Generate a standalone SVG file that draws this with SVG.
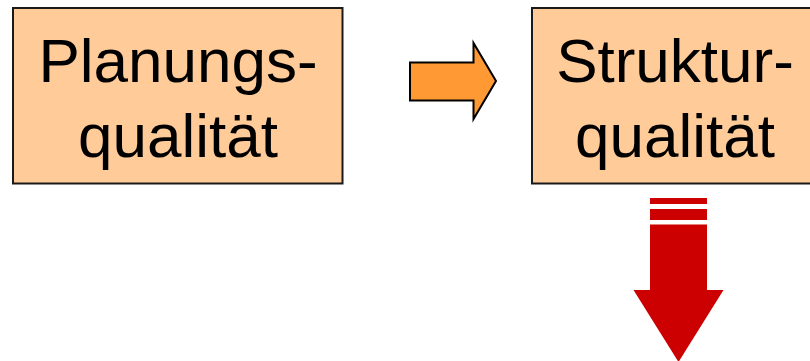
<svg xmlns="http://www.w3.org/2000/svg" width="810" height="361" viewBox="0 0 810 361">
  <style>
    .box { fill: #FFCC99; stroke: #1a1a1a; stroke-width: 2; }
    .label { font-family: "Liberation Sans", Arial, sans-serif; font-size: 62px; fill: #000; text-anchor: middle; }
    .flow { fill: #FF9933; stroke: #000; stroke-width: 2; stroke-linejoin: miter; }
    .down { fill: #CC0000; }
  </style>
  <rect width="810" height="361" fill="#fff"/>

  <g id="planungsqualitaet">
    <rect class="box" x="13" y="8" width="329.5" height="175.5"/>
    <text class="label" x="178" y="82">Planungs-</text>
    <text class="label" x="178" y="157">qualität</text>
  </g>

  <g id="strukturqualitaet">
    <rect class="box" x="532" y="8" width="290" height="175.5"/>
    <text class="label" x="675" y="82">Struktur-</text>
    <text class="label" x="675" y="157">qualität</text>
  </g>

  <g id="connectors">
    <!-- block arrow between the two boxes -->
    <polygon class="flow" points="410,62.5 473.5,62.5 473.5,43 496,81 473.5,119 473.5,100.5 410,100.5"/>
    <!-- striped downward arrow -->
    <g class="down">
      <rect x="650" y="198" width="57" height="6"/>
      <rect x="650" y="209" width="57" height="11"/>
      <polygon points="650,224.5 707,224.5 707,290 723.5,290 678.5,362 633.5,290 650,290"/>
    </g>
  </g>
</svg>
